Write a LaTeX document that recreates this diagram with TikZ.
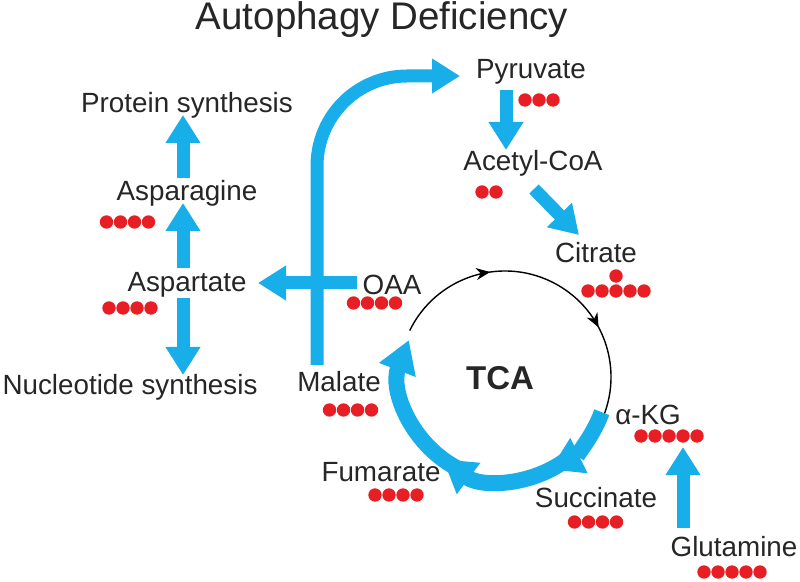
\documentclass[tikz,border=0pt]{standalone}
\usepackage{fontspec}
\setmainfont{Liberation Sans}
\usetikzlibrary{arrows.meta,decorations.markings}
\definecolor{cyanb}{RGB}{24,174,234}
\definecolor{dotred}{RGB}{232,30,37}
\definecolor{txt}{RGB}{38,38,38}
\newcommand{\reddots}[3]{%
  \foreach \k in {1,...,#3}{%
    \fill[dotred] ({#1+(\k-(#3+1)/2)*14},#2) circle[radius=6.7];}}
\begin{document}
\begin{tikzpicture}[x=1pt,y=1pt,
  lbl/.style={font=\fontsize{27.8}{30}\selectfont, text=txt, inner sep=0pt},
  flow/.style={draw=cyanb, line width=13pt, -{Triangle[width=33pt,length=28pt]}},
  cyc/.style={draw=cyanb, line width=16pt, -{Triangle[width=37pt,length=32pt]}},
  ring/.style={draw=black, line width=1.4pt,
    decoration={markings,
      mark=at position 0.318 with {\arrow{Stealth[length=14pt,width=12pt]}},
      mark=at position 0.716 with {\arrow{Stealth[length=14pt,width=12pt]}}},
    postaction={decorate}},
]
\useasboundingbox (0,0) rectangle (800,581);
\fill[white] (0,0) rectangle (800,581);

% title
\node[font=\fontsize{38.5}{42}\selectfont, text=txt, inner sep=0pt, anchor=base] (title) at (382,551) {Autophagy Deficiency};

% labels
\node[lbl] (pyr) at (531,509) {Pyruvate};
\node[lbl] (acoa) at (533,418) {Acetyl-CoA};
\node[lbl] (cit) at (596,328) {Citrate};
\node[lbl] (oaa) at (392,296) {OAA};
\node[lbl] (asp) at (187,296) {Aspartate};
\node[lbl] (asn) at (187,388) {Asparagine};
\node[lbl] (prot) at (187,476) {Protein synthesis};
\node[lbl] (nuc) at (130,194) {Nucleotide synthesis};
\node[lbl] (mal) at (339,199) {Malate};
\node[lbl] (fum) at (381,109) {Fumarate};
\node[lbl] (suc) at (596,83) {Succinate};
\node[lbl] (akg) at (648,166) {α-KG};
\node[lbl] (gln) at (734,34) {Glutamine};
\node[font=\bfseries\fontsize{33}{36}\selectfont, text=txt, inner sep=0pt] (tca) at (500,203) {TCA};

% red dots
\reddots{539}{481}{3}
\reddots{489}{389}{2}
\reddots{616}{290}{5}
\fill[dotred] (616,305) circle[radius=6.7];
\reddots{374.5}{278}{4}
\reddots{130}{273}{4}
\reddots{127.5}{359}{4}
\reddots{350.5}{171}{4}
\reddots{396}{86}{4}
\reddots{595.5}{59}{4}
\reddots{669}{145}{5}
\reddots{732}{9}{5}

% connector end points
\coordinate (tcac) at (505,204);
\coordinate (pyr-out) at (506,491);
\coordinate (acoa-in) at (506,431);
\coordinate (acoa-out) at (534,392);
\coordinate (cit-in) at (579,346);
\coordinate (oaa-out) at (357,298);
\coordinate (asp-in) at (258,298);
\coordinate (asp-up) at (183,313);
\coordinate (asn-in) at (183,378);
\coordinate (asn-up) at (183,403);
\coordinate (prot-in) at (183,466);
\coordinate (asp-down) at (183,283);
\coordinate (nuc-in) at (183,206);
\coordinate (mal-up) at (317,216);
\coordinate (pyr-in) at (460,505);
\coordinate (gln-up) at (683,53);
\coordinate (akg-in) at (683,134);

% TCA ring (black)
\draw[ring] ([shift={(154:106)}]tcac) arc[start angle=154,end angle=-22,radius=106];

% straight flows
\draw[flow] (pyr-out) -- (acoa-in);
\draw[flow] (acoa-out) -- (cit-in);
\draw[flow] (oaa-out) -- (asp-in);
\draw[flow] (asp-up) -- (asn-in);
\draw[flow] (asn-up) -- (prot-in);
\draw[flow] (asp-down) -- (nuc-in);
\draw[flow] (gln-up) -- (akg-in);
\draw[flow, rounded corners=90pt] (mal-up) -- (mal-up |- pyr-in) -- (pyr-in);

% TCA flows (blue arcs)
\draw[cyc] ([shift={(-20:103)}]tcac) arc[start angle=-20,end angle=-64,radius=103];
\draw[cyc] ([shift={(-52:103)}]tcac) arc[start angle=-52,end angle=-127,radius=103];
\draw[cyc] ([shift={(-115:103)}]tcac) arc[start angle=-115,end angle=-201,radius=103];
\end{tikzpicture}
\end{document}
